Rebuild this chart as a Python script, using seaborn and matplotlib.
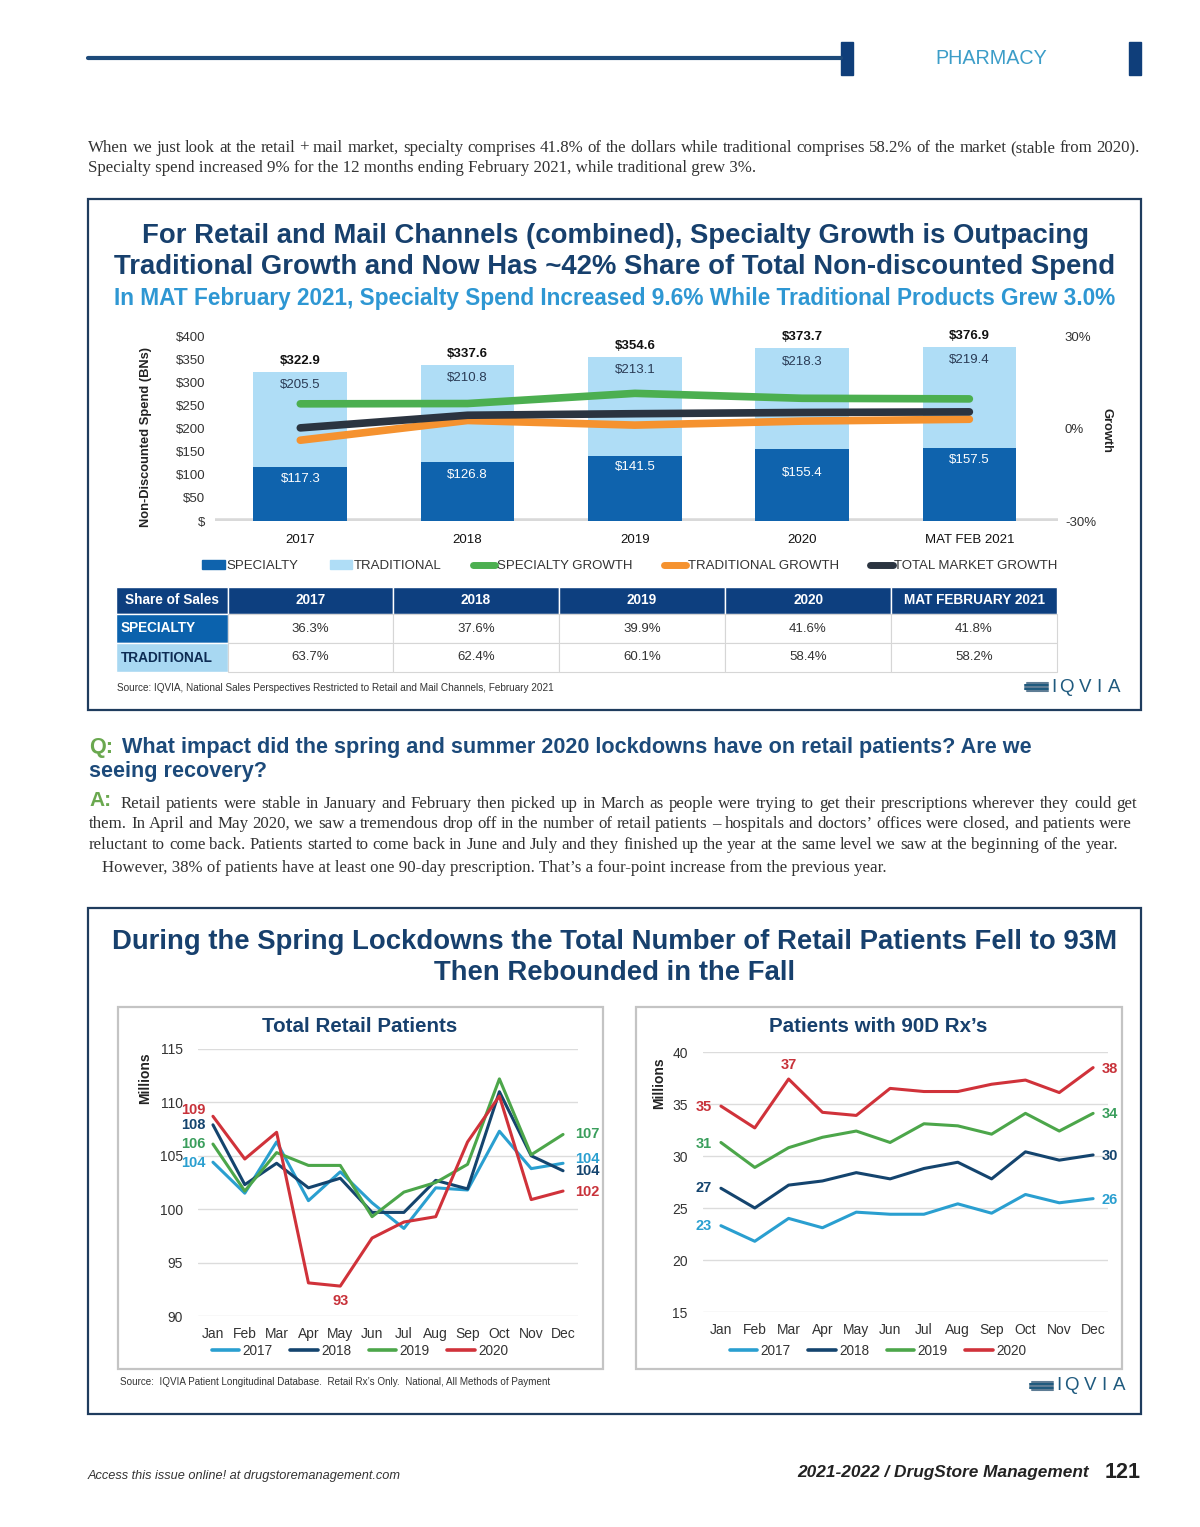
import numpy as np
import pandas as pd
import matplotlib
matplotlib.use("Agg")
import matplotlib.pyplot as plt
import seaborn as sns
from matplotlib.patches import Rectangle, Patch
from matplotlib.lines import Line2D

# ---- data: spend chart ----
years = ["2017", "2018", "2019", "2020", "MAT FEB 2021"]
specialty = [117.3, 126.8, 141.5, 155.4, 157.5]
traditional = [205.5, 210.8, 213.1, 218.3, 219.4]
totals = [322.9, 337.6, 354.6, 373.7, 376.9]
spec_growth = [8.0, 8.1, 11.4, 9.8, 9.6]
trad_growth = [-3.8, 2.6, 1.1, 2.4, 3.0]
total_growth = [0.2, 4.3, 4.8, 5.2, 5.4]
spend_ticks = ["$", "$50", "$100", "$150", "$200", "$250", "$300", "$350", "$400"]
growth_ticks = ["-30%", "0%", "30%"]

# ---- data: share table ----
table_cols = ["Share of Sales", "2017", "2018", "2019", "2020", "MAT FEBRUARY 2021"]
share_specialty = ["36.3%", "37.6%", "39.9%", "41.6%", "41.8%"]
share_traditional = ["63.7%", "62.4%", "60.1%", "58.4%", "58.2%"]

# ---- data: patients charts ----
months = ["Jan", "Feb", "Mar", "Apr", "May", "Jun", "Jul", "Aug", "Sep", "Oct", "Nov", "Dec"]
series_years = ["2017", "2018", "2019", "2020"]
retail_2017 = [104.4, 101.5, 106.3, 100.8, 103.5, 100.6, 98.2, 102.0, 101.8, 107.3, 103.8, 104.3]
retail_2018 = [107.9, 102.3, 104.3, 102.0, 102.9, 99.7, 99.7, 102.7, 101.9, 111.0, 105.0, 103.6]
retail_2019 = [106.1, 101.7, 105.3, 104.1, 104.1, 99.3, 101.6, 102.5, 104.2, 112.2, 105.1, 107.0]
retail_2020 = [108.7, 104.7, 107.2, 93.1, 92.8, 97.3, 98.8, 99.3, 106.3, 110.6, 100.9, 101.7]
rx90_2017 = [23.3, 21.8, 24.0, 23.1, 24.6, 24.4, 24.4, 25.4, 24.5, 26.3, 25.5, 25.9]
rx90_2018 = [26.9, 25.0, 27.2, 27.6, 28.4, 27.8, 28.8, 29.4, 27.8, 30.4, 29.6, 30.1]
rx90_2019 = [31.3, 28.9, 30.8, 31.8, 32.4, 31.3, 33.1, 32.9, 32.1, 34.1, 32.4, 34.1]
rx90_2020 = [34.8, 32.7, 37.4, 34.2, 33.9, 36.5, 36.2, 36.2, 36.9, 37.3, 36.1, 38.5]

W, H = 1200, 1527
NAVY = "#17406d"
C_SPEC = "#0f63ad"
C_TRAD = "#afddf6"
C_GREEN = "#4caf50"
C_ORANGE = "#f5922f"
C_DARK = "#2b3440"
year_colors = {"2017": "#2a9fd0", "2018": "#14446e", "2019": "#4ca64a", "2020": "#d0323a"}
label_colors = {"2017": "#2a9fd0", "2018": "#14446e", "2019": "#3a9e5c", "2020": "#c8323a"}

sns.set_theme(style="white")
plt.rcParams["font.family"] = ["Liberation Sans", "DejaVu Sans"]

fig = plt.figure(figsize=(W / 100, H / 100), dpi=100)
fig.patch.set_facecolor("white")

# full-page axes in pixel coords for decoration
page = fig.add_axes([0, 0, 1, 1])
page.set_xlim(0, W)
page.set_ylim(H, 0)
page.axis("off")


def box(l, t, r, b):
    return [l / W, 1 - b / H, (r - l) / W, (b - t) / H]


def justify(line, x0, x1, y, **kw):
    words = line.split()
    texts = [page.text(0, y, w, va="center", ha="left", **kw) for w in words]
    rend = fig.canvas.get_renderer()
    widths = [t.get_window_extent(rend).width for t in texts]
    gap = max((x1 - x0 - sum(widths)) / max(len(words) - 1, 1), 2.5)
    x = x0
    for t, w in zip(texts, widths):
        t.set_x(x)
        x += w + gap


def iqvia(x, y):
    for k, c in enumerate(["#5f7d95", "#1f5a7e", "#5f7d95", "#1f5a7e", "#5f7d95"]):
        page.plot([x + (2 if k in (0, 4) else 0), x + 23], [y - 4.5 + 2.2 * k] * 2,
                  color=c, lw=1.5, solid_capstyle="round")
    for ch, dx in zip("IQVIA", [28.5, 41.5, 60.5, 73.5, 89]):
        page.text(x + dx, y, ch, fontsize=13.5, color="#1f5a7e", va="center", ha="center")


# ---- page header ----
page.plot([88, 841], [58, 58], color="#1d4a7a", lw=3)
page.add_patch(Rectangle((841, 42), 12, 33, color="#0f3e7a"))
page.add_patch(Rectangle((1129, 42), 12, 33, color="#0f3e7a"))
page.text(991, 59, "PHARMACY", fontsize=14.2, color="#3c9dc8", ha="center", va="center")

serif = dict(family=["Liberation Serif", "DejaVu Serif"], fontsize=12.2, color="#333333")
justify("When we just look at the retail + mail market, specialty comprises 41.8% of the dollars "
        "while traditional comprises 58.2% of the market (stable from 2020).", 88, 1140, 148, **serif)
page.text(88, 168, "Specialty spend increased 9% for the 12 months ending February 2021, "
          "while traditional grew 3%.", va="center", **serif)

# ---- top panel ----
page.add_patch(Rectangle((88, 199), 1053, 511, fill=False, ec="#1f3c5e", lw=1.6))
page.text(615, 236, "For Retail and Mail Channels (combined), Specialty Growth is Outpacing",
          fontsize=19.8, fontweight="bold", color=NAVY, ha="center", va="center")
page.text(615, 267, "Traditional Growth and Now Has ~42% Share of Total Non-discounted Spend",
          fontsize=19.8, fontweight="bold", color=NAVY, ha="center", va="center")
page.text(615, 299, "In MAT February 2021, Specialty Spend Increased 9.6% While Traditional Products Grew 3.0%",
          fontsize=16.3, fontweight="bold", color="#2e97d3", ha="center", va="center")

ax = fig.add_axes(box(215, 336, 1058, 521))
bar_tops = [s + t for s, t in zip(specialty, traditional)]
sns.barplot(x=years, y=bar_tops, color=C_TRAD, width=0.56, saturation=1, linewidth=0, ax=ax)
sns.barplot(x=years, y=specialty, color=C_SPEC, width=0.56, saturation=1, linewidth=0, ax=ax)
ax.axhline(0, color="#d9d9d9", lw=4, zorder=0.5)
ax.set_ylim(0, 400)
ax.set_yticks(np.arange(0, 401, 50))
ax.set_yticklabels(spend_ticks)
ax.set_xlabel("")
ax.set_ylabel("")
ax.tick_params(axis="y", length=0, pad=7, labelsize=9.5, labelcolor="#333333")
ax.tick_params(axis="x", length=0, pad=9, labelsize=9.5, labelcolor="#111111")
for s in ax.spines.values():
    s.set_visible(False)
spec_label_drop = [27, 27, 25, 52, 25]
for i in range(len(years)):
    ax.text(i, totals[i] + 24, f"${totals[i]:.1f}", ha="center", va="center",
            fontsize=9.5, fontweight="bold", color="#111111")
    ax.text(i, bar_tops[i] - 29, f"${traditional[i]:.1f}", ha="center", va="center",
            fontsize=9.5, color="#2a3b55")
    ax.text(i, specialty[i] - spec_label_drop[i], f"${specialty[i]:.1f}", ha="center",
            va="center", fontsize=9.5, color="white")

ax2 = ax.twinx()
xs = np.arange(len(years))
for vals, c in [(spec_growth, C_GREEN), (trad_growth, C_ORANGE), (total_growth, C_DARK)]:
    sns.lineplot(x=xs, y=vals, color=c, lw=5.5, ax=ax2, solid_capstyle="round")
ax2.set_ylim(-30, 30)
ax2.set_yticks([-30, 0, 30])
ax2.set_yticklabels(growth_ticks)
ax2.tick_params(axis="y", length=0, pad=5, labelsize=9.5, labelcolor="#333333")
ax2.set_ylabel("")
for s in ax2.spines.values():
    s.set_visible(False)
ax.set_xlim(-0.51, 4.53)
ax2.set_xlim(-0.51, 4.53)
ax2.grid(False)

page.text(146, 437, "Non-Discounted Spend (BNs)", rotation=90, fontsize=9.3, fontweight="bold",
          color="#222222", ha="center", va="center")
page.text(1106, 430, "Growth", rotation=270, fontsize=9.3, fontweight="bold",
          color="#222222", ha="center", va="center")

handles = [Patch(color=C_SPEC), Patch(color=C_TRAD),
           Line2D([], [], color=C_GREEN, lw=5, solid_capstyle="round"),
           Line2D([], [], color=C_ORANGE, lw=5, solid_capstyle="round"),
           Line2D([], [], color=C_DARK, lw=5, solid_capstyle="round")]
fig.legend(handles, ["SPECIALTY", "TRADITIONAL", "SPECIALTY GROWTH", "TRADITIONAL GROWTH",
                     "TOTAL MARKET GROWTH"], loc="center", bbox_to_anchor=(630 / W, 1 - 566 / H),
           ncol=5, frameon=False, fontsize=9.5, handlelength=1.7, handleheight=0.6,
           handletextpad=0.1, columnspacing=2.4, labelcolor="#333333")

# share table
col_x = [116, 228, 393, 559, 725, 891, 1057]
row_y = [587, 614, 643, 672]
for j in range(6):
    page.add_patch(Rectangle((col_x[j], row_y[0]), col_x[j + 1] - col_x[j], row_y[1] - row_y[0],
                             fc="#0d3f7f", ec="white", lw=1))
    page.text((col_x[j] + col_x[j + 1]) / 2 if j else col_x[0] + 56, (row_y[0] + row_y[1]) / 2,
              table_cols[j], color="white", fontsize=9.8, fontweight="bold", ha="center", va="center")
for r, (name, vals, bg, fg) in enumerate([("SPECIALTY", share_specialty, "#0b62ad", "white"),
                                          ("TRADITIONAL", share_traditional, "#a8d8f2", "#0d2c54")]):
    y0, y1 = row_y[r + 1], row_y[r + 2]
    page.add_patch(Rectangle((col_x[0], y0), col_x[1] - col_x[0], y1 - y0, fc=bg, ec="white", lw=1))
    page.text(col_x[0] + 5, (y0 + y1) / 2, name, color=fg, fontsize=9.8, fontweight="bold",
              ha="left", va="center")
    for j, v in enumerate(vals):
        page.add_patch(Rectangle((col_x[j + 1], y0), col_x[j + 2] - col_x[j + 1], y1 - y0,
                                 fc="white", ec="#d6d6d6", lw=0.8))
        page.text((col_x[j + 1] + col_x[j + 2]) / 2, (y0 + y1) / 2, v, color="#333333",
                  fontsize=9.5, ha="center", va="center")

page.text(117, 688, "Source: IQVIA, National Sales Perspectives Restricted to Retail and Mail Channels, "
          "February 2021", fontsize=7.2, color="#333333", va="center")
iqvia(1025, 687)

# ---- Q & A ----
qfont = dict(fontsize=15.6, fontweight="bold", va="center")
page.text(89, 747, "Q:", color="#6aa84f", **qfont)
page.text(122, 747, "What impact did the spring and summer 2020 lockdowns have on retail patients? Are we",
          color="#1c4a7a", **qfont)
page.text(89, 771, "seeing recovery?", color="#1c4a7a", **qfont)
page.text(89, 801, "A:", color="#6aa84f", fontsize=15, fontweight="bold", va="center")
justify("Retail patients were stable in January and February then picked up in March as people were "
        "trying to get their prescriptions wherever they could get", 121, 1137, 804, **serif)
justify("them. In April and May 2020, we saw a tremendous drop off in the number of retail patients "
        "– hospitals and doctors’ offices were closed, and patients were", 89, 1132, 824, **serif)
justify("reluctant to come back. Patients started to come back in June and July and they finished up "
        "the year at the same level we saw at the beginning of the year.", 89, 1118, 845, **serif)
page.text(102, 868, "However, 38% of patients have at least one 90-day prescription. That’s a four-point "
          "increase from the previous year.", va="center", **serif)

# ---- bottom panel ----
page.add_patch(Rectangle((88, 908), 1053, 506, fill=False, ec="#1f3c5e", lw=1.6))
page.text(615, 942, "During the Spring Lockdowns the Total Number of Retail Patients Fell to 93M",
          fontsize=19.8, fontweight="bold", color=NAVY, ha="center", va="center")
page.text(615, 973, "Then Rebounded in the Fall",
          fontsize=19.8, fontweight="bold", color=NAVY, ha="center", va="center")
page.add_patch(Rectangle((118, 1007), 485, 362, fill=False, ec="#c4c4c4", lw=1.6))
page.add_patch(Rectangle((636, 1007), 486, 362, fill=False, ec="#c4c4c4", lw=1.6))


def patients_chart(rect, series, ylim, yticks, xlim, title, center_x, start, end, extra):
    a = fig.add_axes(rect)
    df = pd.DataFrame({
        "month": np.tile(np.arange(12), 4),
        "value": np.concatenate(series),
        "year": np.repeat(series_years, 12),
    })
    sns.lineplot(data=df, x="month", y="value", hue="year", hue_order=series_years,
                 palette=year_colors, lw=2.2, ax=a)
    a.set_ylim(*ylim)
    a.set_xlim(*xlim)
    a.set_yticks(yticks)
    a.set_xticks(np.arange(12))
    a.set_xticklabels(months)
    a.set_xlabel("")
    a.set_ylabel("")
    a.grid(axis="y", color="#dcdcdc", lw=1)
    a.grid(axis="x", visible=False)
    for s in a.spines.values():
        s.set_visible(False)
    a.tick_params(length=0, labelsize=10, labelcolor="#333333")
    a.tick_params(axis="y", pad=11)
    a.tick_params(axis="x", pad=8)
    h, l = a.get_legend_handles_labels()
    for hh in h:
        hh.set_linewidth(2.6)
    a.legend(h, l, loc="center", bbox_to_anchor=(center_x, 1351), bbox_transform=page.transData,
             ncol=4, frameon=False, fontsize=9.8, handlelength=2.0, handletextpad=0.25,
             columnspacing=1.3, labelcolor="#333333")
    for k, yr in enumerate(series_years):
        vals = series[k]
        dx0, dy0 = start[yr]
        a.text(dx0, vals[0] + dy0, f"{round(vals[0])}", color=label_colors[yr], fontsize=10.5,
               fontweight="bold", ha="center", va="center", clip_on=False)
        dx1, dy1 = end[yr]
        a.text(11 + dx1, vals[11] + dy1, f"{round(vals[11])}", color=label_colors[yr],
               fontsize=10.5, fontweight="bold", ha="center", va="center", clip_on=False)
    yr, m, dy = extra
    v = series[series_years.index(yr)][m]
    a.text(m, v + dy, f"{round(v)}", color=label_colors[yr], fontsize=10.5, fontweight="bold",
           ha="center", va="center", clip_on=False)
    page.text(center_x, 1027, title, fontsize=14.8, fontweight="bold", color=NAVY,
              ha="center", va="center")
    return a


patients_chart(box(198, 1049, 578, 1316), [retail_2017, retail_2018, retail_2019, retail_2020],
               (90, 115), [90, 95, 100, 105, 110, 115], (-0.47, 11.47), "Total Retail Patients", 360,
               {"2017": (-0.63, -0.1), "2018": (-0.63, 0), "2019": (-0.63, 0), "2020": (-0.63, 0.6)},
               {"2017": (0.75, 0.4), "2018": (0.75, 0), "2019": (0.75, 0), "2020": (0.75, -0.1)},
               ("2020", 4, -1.4))
patients_chart(box(703, 1052, 1108, 1312), [rx90_2017, rx90_2018, rx90_2019, rx90_2020],
               (15, 40), [15, 20, 25, 30, 35, 40], (-0.53, 11.44), "Patients with 90D Rx’s", 878,
               {"2017": (-0.5, 0), "2018": (-0.5, 0), "2019": (-0.5, -0.1), "2020": (-0.5, -0.1)},
               {"2017": (0.5, -0.1), "2018": (0.5, -0.1), "2019": (0.5, -0.1), "2020": (0.5, -0.1)},
               ("2020", 2, 1.35))
page.text(145, 1078, "Millions", rotation=90, fontsize=10, fontweight="bold", color="#222222",
          ha="center", va="center")
page.text(659, 1083, "Millions", rotation=90, fontsize=10, fontweight="bold", color="#222222",
          ha="center", va="center")

page.text(120, 1382, "Source:  IQVIA Patient Longitudinal Database.  Retail Rx’s Only.  National, "
          "All Methods of Payment", fontsize=7.15, color="#333333", va="center")
iqvia(1030, 1386)

# ---- footer ----
page.text(88, 1476, "Access this issue online! at drugstoremanagement.com", fontsize=9.2,
          style="italic", color="#333333", va="center")
page.text(1089, 1473, "2021-2022 / DrugStore Management", fontsize=12.4, style="italic",
          fontweight="bold", color="#222222", ha="right", va="center")
page.text(1141, 1472, "121", fontsize=15.5, fontweight="bold", color="#222222", ha="right",
          va="center")

fig.savefig("out.png", dpi=100, facecolor="white")
